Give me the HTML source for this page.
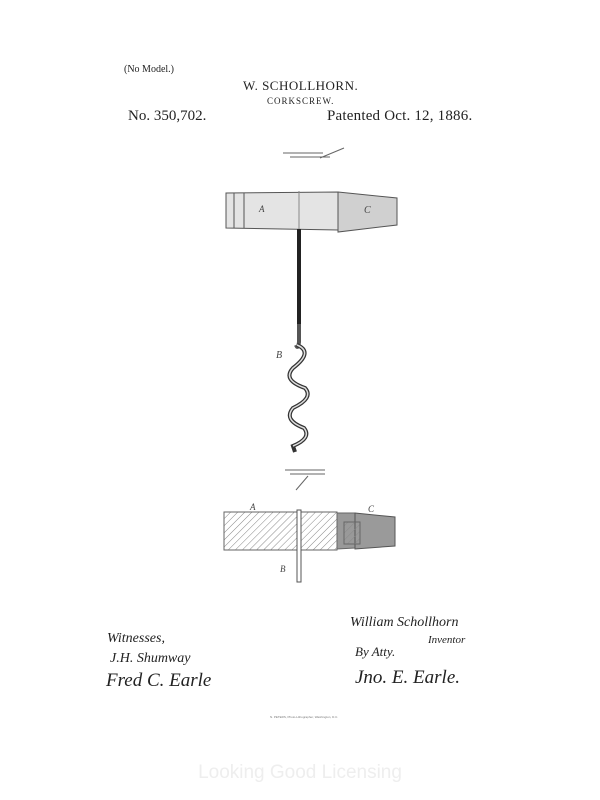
<!DOCTYPE html>
<html><head><style>
body{margin:0;background:#fff;}
.t{position:absolute;font-family:"Liberation Serif",serif;color:#222;white-space:nowrap;}
</style></head><body>
<div style="position:relative;width:600px;height:800px;overflow:hidden;background:#fff">
<div class="t" style="left:124px;top:64px;font-size:10px">(No Model.)</div>
<div class="t" style="left:243px;top:78px;font-size:13px;letter-spacing:0.5px">W. SCHOLLHORN.</div>
<div class="t" style="left:267px;top:96px;font-size:9px;letter-spacing:1px">CORKSCREW.</div>
<div class="t" style="left:128px;top:108px;font-size:15px">No. 350,702.</div>
<div class="t" style="left:327px;top:108px;font-size:15px;letter-spacing:0.2px">Patented Oct. 12, 1886.</div>
<svg width="600" height="800" style="position:absolute;left:0;top:0">
<defs>
<pattern id="h" width="5" height="5" patternUnits="userSpaceOnUse" patternTransform="rotate(45)"><line x1="0" y1="0" x2="0" y2="5" stroke="#888" stroke-width="1"/></pattern>
</defs>
<g stroke="#666" fill="none" stroke-width="1">
<path d="M283 153 h40 M290 157 h40 M320 158 l24 -10"/>
<path d="M285 470 h40 M290 474 h35 M296 490 l12 -14"/>
</g>
<!-- Fig 1 -->
<path d="M226 193 L338 192 L338 230 L226 228 Z" fill="#e4e4e4" stroke="#555"/>
<path d="M338 192 L397 198 L397 225 L338 232 Z" fill="#d0d0d0" stroke="#555"/>
<line x1="234" y1="193" x2="234" y2="228" stroke="#555"/>
<line x1="244" y1="193" x2="244" y2="228" stroke="#555"/>
<line x1="299" y1="191" x2="299" y2="229" stroke="#888"/>
<text x="259" y="212" font-size="9" font-style="italic" fill="#444" font-family="Liberation Serif">A</text>
<text x="364" y="213" font-size="10" font-style="italic" fill="#444" font-family="Liberation Serif">C</text>
<rect x="297" y="229" width="4" height="95" fill="#222"/>
<path d="M299 324 L299 342 Q298 350 296 345" stroke="#555" stroke-width="4" fill="none"/>
<path d="M297 345 Q314 352 293 368 Q282 380 305 388 Q314 398 293 408 Q283 420 304 428 Q312 438 293 446 L295 452" stroke="#333" stroke-width="4" fill="none"/>
<path d="M297 345 Q314 352 293 368 Q282 380 305 388 Q314 398 293 408 Q283 420 304 428 Q312 438 293 446" stroke="#ddd" stroke-width="1.5" fill="none"/>
<text x="276" y="358" font-size="10" font-style="italic" fill="#444" font-family="Liberation Serif">B</text>
<!-- Fig 2 -->
<rect x="224" y="512" width="113" height="38" fill="url(#h)" stroke="#666"/>
<path d="M337 513 L355 513 L355 548 L337 549 Z" fill="#999" stroke="#666"/>
<path d="M355 513 L395 517 L395 546 L355 549 Z" fill="#9a9a9a" stroke="#555"/>
<rect x="344" y="522" width="16" height="22" fill="url(#h)" stroke="#666"/>
<rect x="297" y="510" width="4" height="72" fill="#fff" stroke="#555"/>
<text x="250" y="510" font-size="9" font-style="italic" fill="#444" font-family="Liberation Serif">A</text>
<text x="368" y="512" font-size="9" font-style="italic" fill="#444" font-family="Liberation Serif">C</text>
<text x="280" y="572" font-size="9" font-style="italic" fill="#444" font-family="Liberation Serif">B</text>
<!-- signatures -->
<g font-family="Liberation Serif" font-style="italic" fill="#222">
<text x="107" y="642" font-size="14">Witnesses,</text>
<text x="110" y="662" font-size="14">J.H. Shumway</text>
<text x="106" y="686" font-size="19">Fred C. Earle</text>
<text x="350" y="626" font-size="14">William Schollhorn</text>
<text x="428" y="643" font-size="11">Inventor</text>
<text x="355" y="656" font-size="13">By Atty.</text>
<text x="355" y="683" font-size="19">Jno. E. Earle.</text>
</g>
<text x="270" y="718" font-size="3" fill="#777" font-family="Liberation Sans">N. PETERS, Photo-Lithographer, Washington, D.C.</text>
<text x="300" y="778" font-size="19" fill="#eee" text-anchor="middle" font-family="Liberation Sans">Looking Good Licensing</text>
</svg>
</div>
</body></html>
